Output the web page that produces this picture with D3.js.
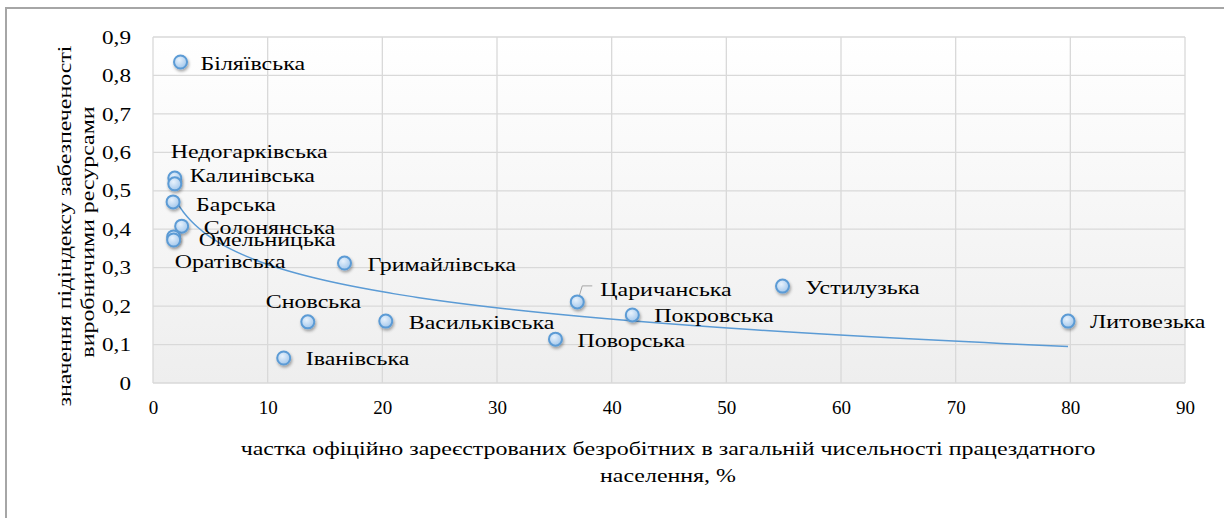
<!DOCTYPE html>
<html>
<head>
<meta charset="utf-8">
<script src="https://cdn.jsdelivr.net/npm/d3@7"></script>
<style>
  body { margin: 0; background: #fff; }
  text { font-family: "Liberation Serif", "Times New Roman", serif; fill: #000; }
</style>
</head>
<body>
<div id="chart"></div>
<script>
// communities (hromadas)
var names = ["Біляївська", "Недогарківська", "Калинівська", "Барська", "Солонянська", "Омельницька",
  "Оратівська", "Гримайлівська", "Сновська", "Васильківська", "Іванівська", "Поворська",
  "Царичанська", "Покровська", "Устилузька", "Литовезька"];
// share of registered unemployed, %
var xVals = [2.4, 1.9, 1.9, 1.75, 2.5, 1.8, 1.8, 16.7, 13.5, 20.3, 11.4, 35.1, 37.0, 41.8, 54.9, 79.8];
// sub-index of production resources
var yVals = [0.835, 0.533, 0.518, 0.471, 0.408, 0.380, 0.372, 0.312, 0.159, 0.161, 0.065, 0.114, 0.211, 0.177, 0.252, 0.161];
var xTicks = [0, 10, 20, 30, 40, 50, 60, 70, 80, 90];
var yTicks = [0, 0.1, 0.2, 0.3, 0.4, 0.5, 0.6, 0.7, 0.8, 0.9];

// label placement: [dx, dy]
var labelPos = [[20, 2], [-4, -26], [15, -8], [23, 3], [22, 2],
  [25, 3], [1, 22], [23, 2], [-42, -20], [23, 2],
  [22, 1], [22, 2], [23, -12], [22, 1], [23, 2], [22, 1]];

var W = 1224, H = 518;
var margin = {top: 37, left: 153, right: 39, bottom: 135};
var width = W - margin.left - margin.right,
    height = H - margin.top - margin.bottom;
var stretch = 1.33;   // text in the original is rendered wide

var svg = d3.select("#chart").append("svg").attr("width", W).attr("height", H);

// chart border (only top/left visible in the crop)
svg.append("rect").attr("x", 6).attr("y", 8).attr("width", 1240).attr("height", 540)
  .attr("fill", "none").attr("stroke", "#a6a6a6").attr("stroke-width", 2);

var defs = svg.append("defs");
var bg = defs.append("linearGradient").attr("id", "bg").attr("x1", 0).attr("y1", 0).attr("x2", 0).attr("y2", 1);
bg.append("stop").attr("offset", "0%").attr("stop-color", "#ffffff");
bg.append("stop").attr("offset", "100%").attr("stop-color", "#eeeeee");

var mk = defs.append("radialGradient").attr("id", "mk").attr("cx", "40%").attr("cy", "35%").attr("r", "65%");
mk.append("stop").attr("offset", "0%").attr("stop-color", "#e8f2fc");
mk.append("stop").attr("offset", "100%").attr("stop-color", "#a4c8ec");

var sh = defs.append("filter").attr("id", "sh").attr("x", "-50%").attr("y", "-50%").attr("width", "200%").attr("height", "200%");
sh.append("feDropShadow").attr("dx", 1).attr("dy", 2).attr("stdDeviation", 1.5)
  .attr("flood-color", "#000").attr("flood-opacity", 0.35);

var g = svg.append("g").attr("transform", "translate(" + margin.left + "," + margin.top + ")");

var x = d3.scaleLinear().domain([0, 90]).range([0, width]);
var y = d3.scaleLinear().domain([0, 0.9]).range([height, 0]);

g.append("rect").attr("width", width).attr("height", height).attr("fill", "url(#bg)");

// gridlines
g.append("g").selectAll("line").data(yTicks).enter().append("line")
  .attr("x1", 0).attr("x2", width)
  .attr("y1", function(d) { return y(d); }).attr("y2", function(d) { return y(d); })
  .attr("stroke", "#d9d9d9").attr("stroke-width", 1.3);
g.append("g").selectAll("line").data(xTicks).enter().append("line")
  .attr("y1", 0).attr("y2", height)
  .attr("x1", function(d) { return x(d); }).attr("x2", function(d) { return x(d); })
  .attr("stroke", "#d9d9d9").attr("stroke-width", 1.3);

var fmt = function(d) { return d === 0 ? "0" : d3.format(".1f")(d).replace(".", ","); };

// y ticks (drawn by hand so they can be widened like the original)
g.append("g").selectAll("text").data(yTicks).enter().append("text")
  .attr("transform", function(d) { return "translate(-22," + y(d) + ") scale(1.22,1)"; })
  .attr("text-anchor", "end").attr("dy", "0.35em").attr("font-size", "19px")
  .text(fmt);

var xAxis = g.append("g").attr("transform", "translate(0," + height + ")")
  .call(d3.axisBottom(x).tickValues(xTicks).tickSize(0).tickPadding(18));
xAxis.select(".domain").remove();
xAxis.selectAll("text").attr("font-size", "19px").attr("font-family", "Liberation Serif, serif").attr("fill", "#000");

// logarithmic trendline (least squares on ln x)
var pts = xVals.map(function(v, i) { return [v, yVals[i]]; });
var lx = pts.map(function(p) { return Math.log(p[0]); });
var mx = d3.mean(lx), my = d3.mean(yVals);
var b = d3.sum(pts, function(p, i) { return (lx[i] - mx) * (p[1] - my); }) / d3.sum(lx, function(v) { return (v - mx) * (v - mx); });
var a = my - b * mx;
var xmin = d3.min(xVals), xmax = d3.max(xVals);
var trend = d3.range(0, 201).map(function(i) {
  var xv = xmin * Math.pow(xmax / xmin, i / 200);
  return [xv, a + b * Math.log(xv)];
});
g.append("path").datum(trend)
  .attr("d", d3.line().x(function(d) { return x(d[0]); }).y(function(d) { return y(d[1]); }))
  .attr("fill", "none").attr("stroke", "#5b9bd5").attr("stroke-width", 1.5);

// leader line for Царичанська
var ci = names.indexOf("Царичанська");
g.append("path")
  .attr("d", "M" + (x(xVals[ci]) + 2) + "," + (y(yVals[ci]) - 6) + "L" + (x(xVals[ci]) + 5) + "," + (y(yVals[ci]) - 16) + "L" + (x(xVals[ci]) + 15) + "," + (y(yVals[ci]) - 16))
  .attr("fill", "none").attr("stroke", "#a6a6a6").attr("stroke-width", 1);

// markers
g.append("g").selectAll("circle").data(pts).enter().append("circle")
  .attr("cx", function(d) { return x(d[0]); })
  .attr("cy", function(d) { return y(d[1]); })
  .attr("r", 6.5)
  .attr("fill", "url(#mk)")
  .attr("stroke", "#5b9bd5").attr("stroke-width", 2)
  .attr("filter", "url(#sh)");

// data labels
g.append("g").selectAll("text").data(pts).enter().append("text")
  .attr("transform", function(d, i) {
    return "translate(" + (x(d[0]) + labelPos[i][0]) + "," + (y(d[1]) + labelPos[i][1]) + ") scale(" + stretch + ",1)";
  })
  .attr("dy", "0.35em")
  .attr("font-size", "18px")
  .text(function(d, i) { return names[i]; });

// axis titles
svg.append("text").attr("transform", "translate(65,226) rotate(-90) scale(" + stretch + ",1)")
  .attr("text-anchor", "middle").attr("dy", "0.35em").attr("font-size", "18px")
  .text("значення підіндексу забезпеченості");
svg.append("text").attr("transform", "translate(88,232) rotate(-90) scale(" + stretch + ",1)")
  .attr("text-anchor", "middle").attr("dy", "0.35em").attr("font-size", "18px")
  .text("виробничими ресурсами");

svg.append("text").attr("transform", "translate(668,449) scale(" + stretch + ",1)")
  .attr("text-anchor", "middle").attr("dy", "0.35em").attr("font-size", "18px")
  .text("частка офіційно  зареєстрованих безробітних в загальній чисельності працездатного");
svg.append("text").attr("transform", "translate(668,476) scale(" + stretch + ",1)")
  .attr("text-anchor", "middle").attr("dy", "0.35em").attr("font-size", "18px")
  .text("населення, %");
</script>
</body>
</html>
